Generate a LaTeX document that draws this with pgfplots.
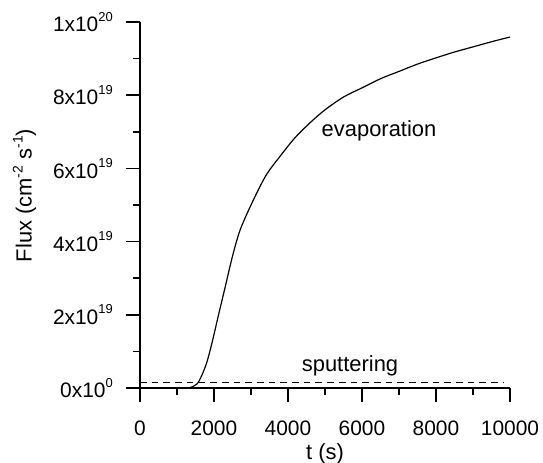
\documentclass[border=0pt]{standalone}
\usepackage{pgfplots}
\pgfplotsset{compat=1.18}
\usepackage{fontspec}
\setmainfont{Liberation Sans}
\newcommand{\sci}[2]{#1x10\raisebox{10.5bp}{\fontsize{13}{13}\selectfont #2}}
\newcommand{\sups}[1]{\raisebox{9bp}{\fontsize{14}{14}\selectfont #1}}
\begin{document}
\begin{tikzpicture}
\begin{axis}[
  scale only axis, width=370bp, height=366bp,
  at={(0,0)}, anchor=south west,
  xmin=0, xmax=10000, ymin=0, ymax=1e20,
  axis x line*=bottom, axis y line*=left,
  axis line style={line width=1.5bp, black},
  tick align=outside,
  major tick length=14bp, minor tick length=7bp,
  every tick/.style={black, line width=1.5bp},
  xtick={0,2000,4000,6000,8000,10000},
  minor xtick={1000,3000,5000,7000,9000},
  xticklabels={0,2000,4000,6000,8000,10000},
  ytick={0,2e19,4e19,6e19,8e19,1e20},
  minor ytick={1e19,3e19,5e19,7e19,9e19},
  yticklabels={\sci{0}{0},\sci{2}{19},\sci{4}{19},\sci{6}{19},\sci{8}{19},\sci{1}{20}},
  scaled x ticks=false, scaled y ticks=false,
  ticklabel style={font=\fontsize{21}{25}\selectfont, inner sep=0pt},
  yticklabel style={anchor=east, xshift=-13bp},
  xticklabel style={anchor=north, yshift=-19bp},
  xlabel={t (s)},
  ylabel={Flux (cm\sups{-2} s\sups{-1})},
  label style={font=\fontsize{22}{26}\selectfont},
  xlabel style={at={(rel axis cs:0.5,-0.1940)}, anchor=base},
  ylabel style={at={(rel axis cs:-0.2927,0.526)}, anchor=base, rotate=0},
  clip=false,
]
\addplot[black, line width=1.2bp, smooth, tension=0.5] coordinates {
(0,0) (1000,0) (1300,0.0) (1450,0.05e19) (1550,0.12e19) (1650,0.3e19)
(1800,0.68e19) (1950,1.25e19) (2100,1.9e19) (2300,2.75e19) (2500,3.6e19)
(2700,4.3e19) (3000,5.0e19) (3400,5.8e19) (3800,6.35e19) (4200,6.85e19)
(4600,7.25e19) (5000,7.6e19) (5500,7.95e19) (6000,8.2e19) (6500,8.45e19)
(7000,8.65e19) (7500,8.85e19) (8000,9.02e19) (8500,9.18e19) (9000,9.32e19)
(9500,9.46e19) (10000,9.59e19)
};
\addplot[black, line width=1.2bp, dash pattern=on 6.7bp off 5bp] coordinates {
(0,1.45e18) (9850,1.45e18)
};
\node[anchor=base, font=\fontsize{22}{26}\selectfont] at (axis cs:5676,4.45e18) {sputtering};
\node[anchor=base, font=\fontsize{22}{26}\selectfont] at (axis cs:6460,6.86e19) {evaporation};
\end{axis}
\pgfresetboundingbox
\path[use as bounding box] (-140bp,-75bp) rectangle (403bp,388bp);
\end{tikzpicture}
\end{document}
